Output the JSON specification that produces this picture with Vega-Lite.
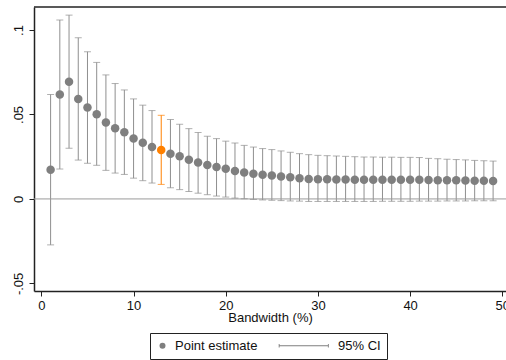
{
  "$schema": "https://vega.github.io/schema/vega-lite/v6.json",
  "autosize": {"type": "none"},
  "width": 472,
  "height": 284,
  "padding": {"left": 34, "top": 7, "right": 0, "bottom": 69},
  "background": "white",
  "config": {
    "view": {"stroke": null},
    "font": "Liberation Sans",
    "axis": {
      "grid": false,
      "domainColor": "#222222",
      "domainWidth": 1.5,
      "tickColor": "#222222",
      "tickSize": 5,
      "tickWidth": 1,
      "labelColor": "#111111",
      "labelFont": "Liberation Sans",
      "labelFontSize": 13,
      "titleFont": "Liberation Sans",
      "titleFontSize": 13,
      "titleFontWeight": "normal",
      "titleColor": "#111111"
    },
    "legend": {"labelFont": "Liberation Sans", "labelFontSize": 13, "labelColor": "#111111"}
  },
  "data": {
    "values": [
      {"bw": 1, "est": 0.0173, "lo": -0.0272, "hi": 0.0618},
      {"bw": 2, "est": 0.0618, "lo": 0.0177, "hi": 0.1059},
      {"bw": 3, "est": 0.0693, "lo": 0.0300, "hi": 0.1088},
      {"bw": 4, "est": 0.0592, "lo": 0.0230, "hi": 0.0954},
      {"bw": 5, "est": 0.0541, "lo": 0.0211, "hi": 0.0871},
      {"bw": 6, "est": 0.0501, "lo": 0.0199, "hi": 0.0808},
      {"bw": 7, "est": 0.0452, "lo": 0.0169, "hi": 0.0734},
      {"bw": 8, "est": 0.0418, "lo": 0.0153, "hi": 0.0683},
      {"bw": 9, "est": 0.0394, "lo": 0.0145, "hi": 0.0645},
      {"bw": 10, "est": 0.0358, "lo": 0.0123, "hi": 0.0592},
      {"bw": 11, "est": 0.0332, "lo": 0.0108, "hi": 0.0555},
      {"bw": 12, "est": 0.0307, "lo": 0.0094, "hi": 0.0523},
      {"bw": 13, "est": 0.0290, "lo": 0.0086, "hi": 0.0495},
      {"bw": 14, "est": 0.0268, "lo": 0.0066, "hi": 0.0470},
      {"bw": 15, "est": 0.0252, "lo": 0.0055, "hi": 0.0442},
      {"bw": 16, "est": 0.0232, "lo": 0.0044, "hi": 0.0416},
      {"bw": 17, "est": 0.0215, "lo": 0.0034, "hi": 0.0393},
      {"bw": 18, "est": 0.0201, "lo": 0.0025, "hi": 0.0371},
      {"bw": 19, "est": 0.0189, "lo": 0.0017, "hi": 0.0357},
      {"bw": 20, "est": 0.0179, "lo": 0.0011, "hi": 0.0342},
      {"bw": 21, "est": 0.0165, "lo": 0.0005, "hi": 0.0331},
      {"bw": 22, "est": 0.0157, "lo": 0.0001, "hi": 0.0317},
      {"bw": 23, "est": 0.0149, "lo": -0.0003, "hi": 0.0307},
      {"bw": 24, "est": 0.0143, "lo": -0.0006, "hi": 0.0298},
      {"bw": 25, "est": 0.0139, "lo": -0.0008, "hi": 0.0292},
      {"bw": 26, "est": 0.0133, "lo": -0.0010, "hi": 0.0284},
      {"bw": 27, "est": 0.0128, "lo": -0.0012, "hi": 0.0276},
      {"bw": 28, "est": 0.0122, "lo": -0.0013, "hi": 0.0268},
      {"bw": 29, "est": 0.0118, "lo": -0.0015, "hi": 0.0262},
      {"bw": 30, "est": 0.0117, "lo": -0.0015, "hi": 0.0258},
      {"bw": 31, "est": 0.0116, "lo": -0.0015, "hi": 0.0256},
      {"bw": 32, "est": 0.0115, "lo": -0.0015, "hi": 0.0254},
      {"bw": 33, "est": 0.0115, "lo": -0.0015, "hi": 0.0252},
      {"bw": 34, "est": 0.0114, "lo": -0.0015, "hi": 0.0250},
      {"bw": 35, "est": 0.0114, "lo": -0.0015, "hi": 0.0248},
      {"bw": 36, "est": 0.0114, "lo": -0.0015, "hi": 0.0248},
      {"bw": 37, "est": 0.0114, "lo": -0.0014, "hi": 0.0247},
      {"bw": 38, "est": 0.0114, "lo": -0.0014, "hi": 0.0247},
      {"bw": 39, "est": 0.0114, "lo": -0.0014, "hi": 0.0246},
      {"bw": 40, "est": 0.0113, "lo": -0.0014, "hi": 0.0246},
      {"bw": 41, "est": 0.0113, "lo": -0.0013, "hi": 0.0245},
      {"bw": 42, "est": 0.0112, "lo": -0.0013, "hi": 0.0240},
      {"bw": 43, "est": 0.0111, "lo": -0.0013, "hi": 0.0238},
      {"bw": 44, "est": 0.0110, "lo": -0.0012, "hi": 0.0235},
      {"bw": 45, "est": 0.0110, "lo": -0.0012, "hi": 0.0233},
      {"bw": 46, "est": 0.0109, "lo": -0.0012, "hi": 0.0231},
      {"bw": 47, "est": 0.0108, "lo": -0.0011, "hi": 0.0228},
      {"bw": 48, "est": 0.0107, "lo": -0.0011, "hi": 0.0226},
      {"bw": 49, "est": 0.0106, "lo": -0.0011, "hi": 0.0224}
    ]
  },
  "layer": [
    {
      "mark": {"type": "rule", "strokeWidth": 1},
      "encoding": {
        "x": {
          "field": "bw", "type": "quantitative",
          "scale": {"domain": [-0.8, 50.4], "nice": false, "zero": false},
          "axis": {"values": [0, 10, 20, 30, 40, 50], "title": "Bandwidth (%)", "labelPadding": 3, "titlePadding": -1, "labelFlush": false, "labelOverlap": false}
        },
        "y": {
          "field": "lo", "type": "quantitative",
          "scale": {"domain": [-0.0545, 0.1136], "nice": false, "zero": false},
          "axis": {
            "values": [-0.05, 0, 0.05, 0.1],
            "title": null,
            "labelAngle": -90,
            "labelAlign": "center",
            "labelBaseline": "bottom",
            "labelPadding": 4,
            "labelExpr": "datum.value === 0 ? '0' : (datum.value < 0 ? '-' : '') + substring(format(abs(datum.value), '.2~f'), 1)"
          }
        },
        "y2": {"field": "hi"},
        "color": {"condition": {"test": "datum.bw === 13", "value": "#ff8000"}, "value": "#8f8f8f"}
      }
    },
    {
      "data": {"values": [{"ref": 0}]},
      "mark": {"type": "rule", "color": "#9a9a9a", "strokeWidth": 1},
      "encoding": {"y": {"field": "ref", "type": "quantitative"}}
    },
    {
      "data": {"values": [{"ref": 0.1136}]},
      "mark": {"type": "rule", "color": "#222222", "strokeWidth": 1.5},
      "encoding": {"y": {"field": "ref", "type": "quantitative"}}
    },
    {
      "mark": {"type": "tick", "orient": "horizontal", "size": 7, "thickness": 1},
      "encoding": {
        "x": {"field": "bw", "type": "quantitative"},
        "y": {"field": "lo", "type": "quantitative"},
        "color": {"condition": {"test": "datum.bw === 13", "value": "#ff8000"}, "value": "#8f8f8f"}
      }
    },
    {
      "mark": {"type": "tick", "orient": "horizontal", "size": 7, "thickness": 1},
      "encoding": {
        "x": {"field": "bw", "type": "quantitative"},
        "y": {"field": "hi", "type": "quantitative"},
        "color": {"condition": {"test": "datum.bw === 13", "value": "#ff8000"}, "value": "#8f8f8f"}
      }
    },
    {
      "mark": {"type": "point", "filled": true, "size": 72, "opacity": 1},
      "encoding": {
        "x": {"field": "bw", "type": "quantitative"},
        "y": {"field": "est", "type": "quantitative"},
        "color": {"condition": {"test": "datum.bw === 13", "value": "#ff8000"}, "value": "#7f7f7f"},
        "shape": {
          "datum": "Point estimate", "type": "nominal",
          "scale": {"domain": ["Point estimate", "95% CI"], "range": ["circle", "M-15.6,-0.15H1.1V0.15H-15.6Z M-15.6,-0.6H-15.3V0.6H-15.6Z M0.8,-0.6H1.1V0.6H0.8Z"]},
          "legend": {
            "title": null,
            "orient": "none",
            "legendX": 116,
            "legendY": 326,
            "direction": "horizontal",
            "strokeColor": "#222222",
            "fillColor": "white",
            "padding": 6,
            "symbolSize": 36,
            "labelOffset": 6,
            "columnPadding": 17,
            "encode": {
              "symbols": {
                "update": {
                  "fill": {"value": "#8a8a8a"},
                  "stroke": {"value": "#8a8a8a"},
                  "strokeWidth": {"value": 0.5},
                  "opacity": {"value": 1},
                  "fillOpacity": {"value": 1},
                  "strokeOpacity": {"value": 1}
                }
              }
            }
          }
        }
      }
    }
  ]
}
